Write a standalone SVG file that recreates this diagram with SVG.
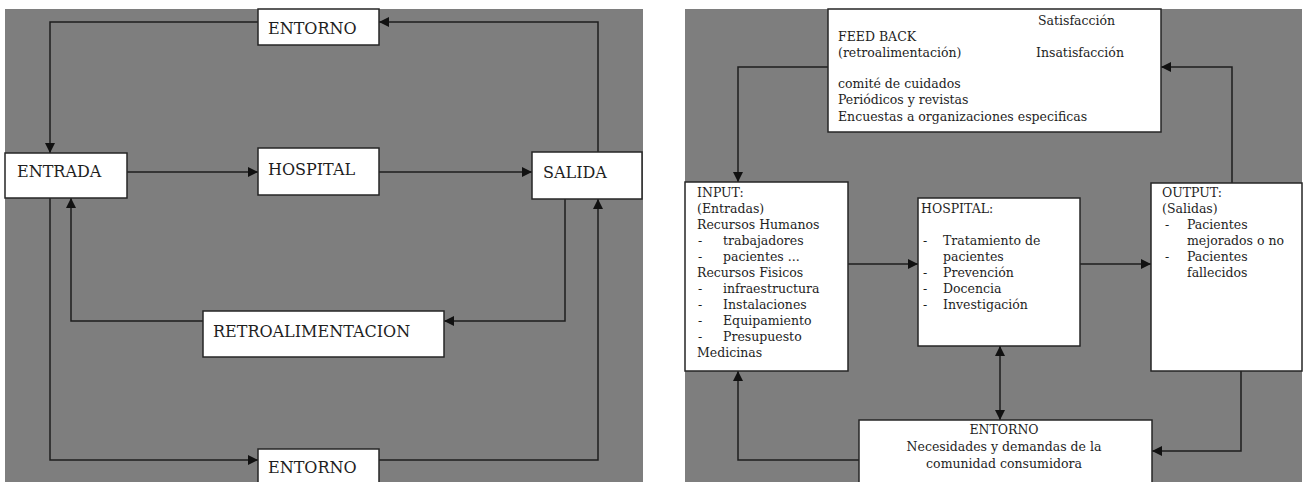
<svg xmlns="http://www.w3.org/2000/svg" width="1308" height="482" viewBox="0 0 1308 482">
  <style>
    .panel { fill: #7e7e7e; }
    .box { fill: #ffffff; stroke: #262626; stroke-width: 1.5; }
    .lg { font-family: "DejaVu Serif", "Liberation Serif", serif; font-size: 16px; fill: #1e1e1e; }
    .sm { font-family: "DejaVu Serif", "Liberation Serif", serif; font-size: 12.5px; fill: #1e1e1e; }
    .wire { fill: none; stroke: #1e1e1e; stroke-width: 1.5; }
    .end { marker-end: url(#arrow); }
    .both { marker-end: url(#arrow); marker-start: url(#arrow-start); }
  </style>
  <defs>
    <marker id="arrow" viewBox="0 0 10 10" refX="10" refY="5" markerWidth="10" markerHeight="10" markerUnits="userSpaceOnUse" orient="auto">
      <path d="M0,0 L10,5 L0,10 Z" fill="#111"/>
    </marker>
    <marker id="arrow-start" viewBox="0 0 10 10" refX="0" refY="5" markerWidth="10" markerHeight="10" markerUnits="userSpaceOnUse" orient="auto">
      <path d="M10,0 L0,5 L10,10 Z" fill="#111"/>
    </marker>
  </defs>

  <rect width="1308" height="482" fill="#ffffff"/>
  <rect class="panel" x="5" y="9" width="638" height="473"/>
  <rect class="panel" x="685" y="9" width="617" height="473"/>

  <!-- left system diagram: connectors -->
  <g id="left-connectors">
    <path class="wire end" d="M258,22 H50 V153"/>
    <path class="wire end" d="M598,152 V22 H379"/>
    <path class="wire end" d="M127,172 H258"/>
    <path class="wire end" d="M379,172 H532"/>
    <path class="wire end" d="M50,198 V460 H258"/>
    <path class="wire end" d="M565,199 V321 H444"/>
    <path class="wire end" d="M203,321 H71 V198"/>
    <path class="wire end" d="M379,460 H598 V199"/>
  </g>

  <g id="l-entorno-top">
    <rect class="box" x="258" y="9" width="121" height="36"/>
    <text class="lg" x="268" y="34">ENTORNO</text>
  </g>
  <g id="l-entrada">
    <rect class="box" x="5" y="153" width="122" height="45"/>
    <text class="lg" x="17" y="177">ENTRADA</text>
  </g>
  <g id="l-hospital">
    <rect class="box" x="258" y="148" width="121" height="47"/>
    <text class="lg" x="268" y="175">HOSPITAL</text>
  </g>
  <g id="l-salida">
    <rect class="box" x="532" y="152" width="110" height="47"/>
    <text class="lg" x="543" y="178">SALIDA</text>
  </g>
  <g id="l-retroalimentacion">
    <rect class="box" x="203" y="311" width="241" height="46"/>
    <text class="lg" x="213" y="337">RETROALIMENTACION</text>
  </g>
  <g id="l-entorno-bottom">
    <rect class="box" x="258" y="449" width="121" height="45"/>
    <text class="lg" x="268" y="473">ENTORNO</text>
  </g>

  <!-- right system diagram: connectors -->
  <g id="right-connectors">
    <path class="wire end" d="M828,67 H738 V182"/>
    <path class="wire end" d="M1232,183 V67 H1161"/>
    <path class="wire end" d="M848,264 H918"/>
    <path class="wire end" d="M1080,264 H1151"/>
    <path class="wire both" d="M1000,346 V420"/>
    <path class="wire end" d="M1241,371 V451 H1152"/>
    <path class="wire end" d="M859,460 H738 V371"/>
  </g>

  <g id="r-feedback">
    <rect class="box" x="828" y="9" width="333" height="123"/>
    <text class="sm" x="1038" y="25">Satisfacción</text>
    <text class="sm" x="838" y="41">FEED BACK</text>
    <text class="sm" x="838" y="57">(retroalimentación)</text>
    <text class="sm" x="1036" y="57">Insatisfacción</text>
    <text class="sm" x="838" y="88">comité de cuidados</text>
    <text class="sm" x="838" y="104">Periódicos y revistas</text>
    <text class="sm" x="838" y="121">Encuestas a organizaciones especificas</text>
  </g>

  <g id="r-input">
    <rect class="box" x="685" y="182" width="163" height="189"/>
    <text class="sm" x="697" y="197">INPUT:</text>
    <text class="sm" x="697" y="213">(Entradas)</text>
    <text class="sm" x="697" y="229">Recursos Humanos</text>
    <text class="sm" x="698" y="245">-</text><text class="sm" x="723" y="245">trabajadores</text>
    <text class="sm" x="698" y="261">-</text><text class="sm" x="723" y="261">pacientes ...</text>
    <text class="sm" x="697" y="277">Recursos Fisicos</text>
    <text class="sm" x="698" y="293">-</text><text class="sm" x="723" y="293">infraestructura</text>
    <text class="sm" x="698" y="309">-</text><text class="sm" x="723" y="309">Instalaciones</text>
    <text class="sm" x="698" y="325">-</text><text class="sm" x="723" y="325">Equipamiento</text>
    <text class="sm" x="698" y="341">-</text><text class="sm" x="723" y="341">Presupuesto</text>
    <text class="sm" x="697" y="357">Medicinas</text>
  </g>

  <g id="r-hospital">
    <rect class="box" x="918" y="198" width="162" height="148"/>
    <text class="sm" x="921" y="213">HOSPITAL:</text>
    <text class="sm" x="923" y="245">-</text><text class="sm" x="943" y="245">Tratamiento de</text>
    <text class="sm" x="943" y="261">pacientes</text>
    <text class="sm" x="923" y="277">-</text><text class="sm" x="943" y="277">Prevención</text>
    <text class="sm" x="923" y="293">-</text><text class="sm" x="943" y="293">Docencia</text>
    <text class="sm" x="923" y="309">-</text><text class="sm" x="943" y="309">Investigación</text>
  </g>

  <g id="r-output">
    <rect class="box" x="1151" y="183" width="151" height="188"/>
    <text class="sm" x="1162" y="197">OUTPUT:</text>
    <text class="sm" x="1162" y="213">(Salidas)</text>
    <text class="sm" x="1165" y="229">-</text><text class="sm" x="1187" y="229">Pacientes</text>
    <text class="sm" x="1187" y="245">mejorados o no</text>
    <text class="sm" x="1165" y="261">-</text><text class="sm" x="1187" y="261">Pacientes</text>
    <text class="sm" x="1187" y="277">fallecidos</text>
  </g>

  <g id="r-entorno">
    <rect class="box" x="859" y="420" width="293" height="75"/>
    <text class="sm" x="1004" y="434" text-anchor="middle">ENTORNO</text>
    <text class="sm" x="1004" y="451" text-anchor="middle">Necesidades y demandas de la</text>
    <text class="sm" x="1004" y="468" text-anchor="middle">comunidad consumidora</text>
  </g>
</svg>
